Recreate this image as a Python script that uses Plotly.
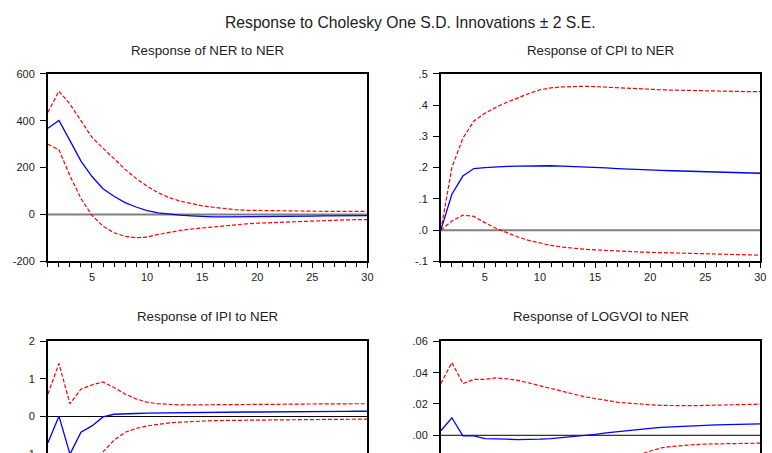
import plotly.graph_objects as go

periods = list(range(1, 31))

# Response of NER to NER
ner_resp = [368, 401, 315, 228, 162, 110, 78, 51, 32, 17, 7, 1, -3, -6, -9, -10, -10, -10, -10, -9,
            -9, -8, -8, -7, -7, -6, -6, -5, -5, -5]
ner_up = [436, 526, 471, 399, 329, 283, 237, 193, 154, 121, 93, 72, 57, 46, 37, 31, 25, 21, 18, 17,
          16, 16, 15, 15, 14, 14, 13, 13, 13, 13]
ner_lo = [300, 276, 165, 68, -4, -50, -78, -93, -99, -96, -85, -75, -68, -62, -57, -53, -49, -44, -40, -37,
          -35, -32, -30, -28, -26, -25, -24, -23, -22, -22]

# Response of CPI to NER
cpi_resp = [0.0, 0.115, 0.173, 0.197, 0.200, 0.203, 0.204, 0.205, 0.206, 0.206, 0.206, 0.205, 0.204, 0.202, 0.200,
            0.199, 0.197, 0.195, 0.194, 0.192, 0.191, 0.190, 0.189, 0.188, 0.187, 0.186, 0.185, 0.184, 0.183, 0.182]
cpi_up = [0.0, 0.200, 0.294, 0.349, 0.374, 0.393, 0.409, 0.424, 0.437, 0.449, 0.455, 0.458, 0.460, 0.460, 0.459,
          0.457, 0.455, 0.453, 0.452, 0.450, 0.449, 0.448, 0.447, 0.446, 0.445, 0.444, 0.443, 0.443, 0.443, 0.443]
cpi_lo = [0.0, 0.029, 0.048, 0.044, 0.024, 0.006, -0.008, -0.022, -0.033, -0.042, -0.049, -0.054, -0.058, -0.061, -0.063,
          -0.065, -0.068, -0.069, -0.070, -0.071, -0.072, -0.073, -0.074, -0.074, -0.075, -0.076, -0.077, -0.077, -0.078, -0.080]

# Response of IPI to NER
ipi_resp = [-0.70, 0.01, -1.00, -0.42, -0.25, -0.01, 0.06, 0.08, 0.08, 0.09, 0.095, 0.10, 0.10, 0.105, 0.11,
            0.11, 0.115, 0.115, 0.12, 0.12, 0.12, 0.125, 0.125, 0.13, 0.13, 0.13, 0.135, 0.135, 0.14, 0.14]
ipi_up = [0.60, 1.41, 0.34, 0.73, 0.84, 0.92, 0.77, 0.60, 0.47, 0.38, 0.34, 0.32, 0.31, 0.31, 0.31,
          0.31, 0.31, 0.315, 0.32, 0.32, 0.32, 0.325, 0.33, 0.335, 0.34, 0.34, 0.34, 0.34, 0.34, 0.34]
ipi_lo = [-2.00, -1.39, -2.34, -1.57, -1.34, -0.94, -0.63, -0.42, -0.32, -0.25, -0.21, -0.17, -0.15, -0.13, -0.12,
          -0.11, -0.105, -0.10, -0.097, -0.095, -0.092, -0.09, -0.087, -0.085, -0.08, -0.078, -0.076, -0.074, -0.072, -0.07]

# Response of LOGVOI to NER
voi_resp = [0.0029, 0.0112, -0.0004, -0.0004, -0.0021, -0.0021, -0.0025, -0.0027, -0.0027, -0.0025, -0.0021, -0.0015,
            -0.0008, 0.0, 0.0006, 0.0015, 0.0023, 0.0031, 0.0037, 0.0044, 0.0050, 0.0054, 0.0058, 0.0062, 0.0064,
            0.0066, 0.0068, 0.0071, 0.0073, 0.0073]
voi_up = [0.0330, 0.0465, 0.0330, 0.0357, 0.0357, 0.0367, 0.0361, 0.0351, 0.0334, 0.0316, 0.0299, 0.0280,
          0.0264, 0.0247, 0.0235, 0.0222, 0.0212, 0.0206, 0.0199, 0.0195, 0.0191, 0.0189, 0.0189, 0.0189, 0.0191,
          0.0193, 0.0195, 0.0197, 0.0199, 0.0199]
voi_lo = [-0.0270, -0.0240, -0.0340, -0.0365, -0.0400, -0.0409, -0.0410, -0.0405, -0.0388, -0.0366, -0.0341, -0.0310,
          -0.0280, -0.0247, -0.0223, -0.0192, -0.0166, -0.0144, -0.0122, -0.0098, -0.0080, -0.0071, -0.0064, -0.0060,
          -0.0056, -0.0054, -0.0053, -0.0052, -0.0051, -0.0050]

titles = ["Response of NER to NER", "Response of CPI to NER", "Response of IPI to NER", "Response of LOGVOI to NER"]
main_title = "Response to Cholesky One S.D. Innovations \u00b1 2 S.E."
y_ranges = [[-200, 600], [-0.1, 0.5], [-3, 2], [-0.06, 0.06]]
y_ticks = [[-200, 0, 200, 400, 600], [-0.1, 0.0, 0.1, 0.2, 0.3, 0.4, 0.5], [-3, -2, -1, 0, 1, 2],
           [-0.06, -0.04, -0.02, 0.0, 0.02, 0.04, 0.06]]
y_labels = [["-200", "0", "200", "400", "600"], ["-.1", ".0", ".1", ".2", ".3", ".4", ".5"],
            ["-3", "-2", "-1", "0", "1", "2"], ["-.06", "-.04", "-.02", ".00", ".02", ".04", ".06"]]
x_ticks = [5, 10, 15, 20, 25, 30]

series = [(ner_resp, ner_up, ner_lo), (cpi_resp, cpi_up, cpi_lo), (ipi_resp, ipi_up, ipi_lo), (voi_resp, voi_up, voi_lo)]

W, H = 772, 560
# pixel boxes (left, right, top, bottom)
boxes = [(48.3, 370.3, 69.3, 261), (444.3, 766.3, 69.3, 261), (48.3, 370.3, 342.7, 534.7), (444.3, 766.3, 342.7, 534.7)]
title_y = [45, 45, 317.3, 317.3]

fig = go.Figure()
FONT = "Liberation Sans, Arial, sans-serif"

for i, ((resp, up, lo), (l, r, t, b)) in enumerate(zip(series, boxes)):
    n = i + 1
    xa = "x" if n == 1 else f"x{n}"
    ya = "y" if n == 1 else f"y{n}"
    zero_col = "#7f7f7f" if i < 2 else "#000000"
    zero_w = 2 if i < 2 else 1
    fig.add_trace(go.Scatter(x=[1, 30], y=[0, 0], mode="lines", line=dict(color=zero_col, width=zero_w),
                             xaxis=xa, yaxis=ya, showlegend=False, hoverinfo="skip"))
    fig.add_trace(go.Scatter(x=periods, y=up, mode="lines", line=dict(color="#ff0000", width=1.2, dash="4px,2px"),
                             xaxis=xa, yaxis=ya, showlegend=False))
    fig.add_trace(go.Scatter(x=periods, y=lo, mode="lines", line=dict(color="#ff0000", width=1.2, dash="4px,2px"),
                             xaxis=xa, yaxis=ya, showlegend=False))
    fig.add_trace(go.Scatter(x=periods, y=resp, mode="lines", line=dict(color="#0000ff", width=1.3),
                             xaxis=xa, yaxis=ya, showlegend=False))
    axx = dict(domain=[l / W, r / W], range=[1, 30], anchor=ya, tickvals=x_ticks, ticks="outside", ticklen=5,
               tickwidth=1, tickcolor="#000", showgrid=False, zeroline=False, showline=True, linecolor="#000",
               linewidth=1.7, mirror=True, tickfont=dict(family=FONT, size=11, color="#222"),
               minor=dict(tickvals=periods, ticks="outside", ticklen=4, tickcolor="#000", showgrid=False))
    axy = dict(domain=[1 - b / H, 1 - t / H], range=y_ranges[i], anchor=xa, tickvals=y_ticks[i],
               ticktext=y_labels[i], ticks="outside", ticklen=6, tickwidth=1, tickcolor="#000", showgrid=False,
               zeroline=False, showline=True, linecolor="#000", linewidth=1.7, mirror=True, ticklabelstandoff=3,
               tickfont=dict(family=FONT, size=11, color="#222"))
    fig.layout["xaxis" if n == 1 else f"xaxis{n}"] = axx
    fig.layout["yaxis" if n == 1 else f"yaxis{n}"] = axy
    fig.add_annotation(text=titles[i], x=(l + r) / 2 / W, y=1 - title_y[i] / H, xref="paper", yref="paper",
                       showarrow=False, xanchor="center", yanchor="middle",
                       font=dict(family=FONT, size=13.3, color="#222"))

fig.add_annotation(text=main_title, x=413.7 / W, y=1 - 17 / H, xref="paper", yref="paper", showarrow=False,
                   xanchor="center", yanchor="middle", font=dict(family=FONT, size=15.7, color="#222"))

fig.update_layout(width=W, height=H, margin=dict(l=0, r=0, t=0, b=0), paper_bgcolor="white",
                  plot_bgcolor="white", showlegend=False)

fig.write_html("out.html", post_script="document.body.style.overflow='hidden';document.documentElement.style.overflow='hidden';")
